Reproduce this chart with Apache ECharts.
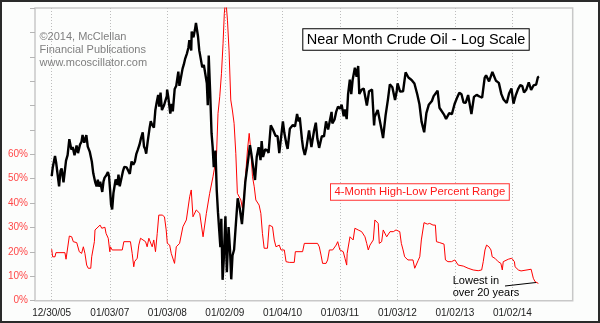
<!DOCTYPE html>
<html>
<head>
<meta charset="utf-8">
<script src="https://cdn.jsdelivr.net/npm/echarts@6/dist/echarts.min.js"></script>
<style>
html,body{margin:0;padding:0;background:#fcfdfc;}
#chart{width:600px;height:323px;}
</style>
</head>
<body>
<div id="chart"></div>
<script>
// ---- Data ----
const xTickDates = ['2005-12-30','2007-01-03','2008-01-03','2009-01-02','2010-01-04','2011-01-03','2012-01-03','2013-01-02','2014-01-02'];
const pctTickLabels = ['0%','10%','20%','30%','40%','50%','60%'];

const oilDates = [
'2005-12-30','2006-01-06','2006-01-12','2006-01-20','2006-01-27','2006-02-03','2006-02-15','2006-02-24','2006-03-03','2006-03-15','2006-03-31','2006-04-10','2006-04-21','2006-05-04','2006-05-12','2006-05-24','2006-06-06','2006-06-15','2006-06-28','2006-07-07','2006-07-14','2006-07-25','2006-08-07','2006-08-16','2006-08-29','2006-09-11','2006-09-20','2006-10-02','2006-10-11','2006-10-19','2006-10-25','2006-11-03','2006-11-16','2006-11-24','2006-12-01','2006-12-11','2006-12-22','2006-12-29',
'2007-01-05','2007-01-11','2007-01-18','2007-01-26','2007-02-01','2007-02-09','2007-02-20','2007-02-27','2007-03-07','2007-03-16','2007-03-28','2007-04-05','2007-04-16','2007-04-20','2007-05-01','2007-05-10','2007-05-21','2007-06-01','2007-06-11','2007-06-20','2007-06-29','2007-07-10','2007-07-20','2007-07-31','2007-08-08','2007-08-16','2007-08-22','2007-08-31','2007-09-12','2007-09-20','2007-09-28','2007-10-10','2007-10-19','2007-10-26','2007-11-06','2007-11-13','2007-11-21','2007-11-30','2007-12-07','2007-12-14','2007-12-21','2007-12-31',
'2008-01-02','2008-01-09','2008-01-16','2008-01-22','2008-01-31','2008-02-07','2008-02-19','2008-02-29','2008-03-13','2008-03-20','2008-04-01','2008-04-09','2008-04-17','2008-04-25','2008-05-06','2008-05-16','2008-05-22','2008-06-03','2008-06-06','2008-06-17','2008-06-27','2008-07-03','2008-07-11','2008-07-16','2008-07-24','2008-08-01','2008-08-12','2008-08-22','2008-08-29','2008-09-10','2008-09-16','2008-09-22','2008-10-01','2008-10-10','2008-10-17','2008-10-24','2008-11-04','2008-11-12','2008-11-20','2008-12-01','2008-12-05','2008-12-11','2008-12-19','2008-12-26',
'2009-01-06','2009-01-15','2009-01-26','2009-02-04','2009-02-12','2009-02-20','2009-03-02','2009-03-13','2009-03-25','2009-04-06','2009-04-21','2009-04-30','2009-05-12','2009-05-29','2009-06-11','2009-06-19','2009-06-30','2009-07-13','2009-07-24','2009-08-05','2009-08-17','2009-08-24','2009-09-02','2009-09-15','2009-09-30','2009-10-07','2009-10-21','2009-11-03','2009-11-20','2009-12-03','2009-12-14','2009-12-31',
'2010-01-06','2010-01-15','2010-01-29','2010-02-05','2010-02-19','2010-03-10','2010-03-24','2010-04-06','2010-04-16','2010-04-23','2010-05-07','2010-05-14','2010-05-25','2010-06-04','2010-06-21','2010-07-06','2010-07-23','2010-08-03','2010-08-13','2010-08-24','2010-09-10','2010-09-24','2010-10-07','2010-10-20','2010-11-11','2010-11-16','2010-11-30','2010-12-10','2010-12-22',
'2011-01-04','2011-01-14','2011-01-27','2011-02-04','2011-02-15','2011-02-24','2011-03-07','2011-03-16','2011-03-25','2011-04-08','2011-04-19','2011-04-29','2011-05-06','2011-05-20','2011-06-03','2011-06-13','2011-06-23','2011-07-07','2011-07-26','2011-08-08','2011-08-12','2011-08-31','2011-09-12','2011-09-23','2011-10-04','2011-10-20','2011-11-04','2011-11-16','2011-12-02','2011-12-19','2011-12-30',
'2012-01-04','2012-01-20','2012-02-08','2012-02-24','2012-03-13','2012-04-02','2012-04-20','2012-05-08','2012-05-22','2012-06-04','2012-06-21','2012-06-28','2012-07-05','2012-07-20','2012-08-09','2012-08-20','2012-09-14','2012-09-26','2012-10-05','2012-10-26','2012-11-07','2012-11-27','2012-12-14','2012-12-31',
'2013-01-18','2013-01-30','2013-02-13','2013-02-26','2013-03-12','2013-03-27','2013-04-17','2013-05-03','2013-05-20','2013-06-07','2013-06-24','2013-07-10','2013-07-19','2013-08-07','2013-08-28','2013-09-06','2013-09-20','2013-10-08','2013-10-24','2013-11-07','2013-11-27','2013-12-12','2013-12-27',
'2014-01-09','2014-01-24','2014-02-07','2014-02-21','2014-03-06','2014-03-17','2014-04-01','2014-04-16','2014-05-01','2014-05-16','2014-06-02','2014-06-13','2014-06-20'
];
const oilPrices = [
61.0,64.2,63.9,68.4,66.0,65.4,57.6,62.9,63.7,58.9,66.6,68.7,75.2,70.9,72.0,68.7,72.6,69.5,73.0,74.1,77.0,73.7,77.0,72.1,70.0,66.2,62.0,59.0,57.6,59.8,57.5,59.1,55.8,59.2,60.5,61.2,62.4,61.0,
56.3,51.9,50.5,55.4,57.3,59.9,58.1,61.5,57.6,57.1,62.9,64.3,63.6,64.1,63.7,61.8,66.3,65.1,66.2,69.1,70.7,72.8,75.6,78.2,72.2,71.0,69.3,74.0,79.9,83.3,81.7,80.3,88.6,91.9,96.7,90.4,98.0,88.7,88.3,91.3,93.3,96.0,
99.6,95.7,90.8,87.0,91.8,88.1,100.0,101.8,110.3,101.8,100.9,112.2,114.9,118.5,122.0,126.3,131.8,124.3,138.5,134.0,140.2,145.3,145.1,134.6,124.4,125.1,113.0,114.6,115.5,103.3,91.2,120.9,98.5,77.7,71.9,64.2,70.5,56.2,49.6,49.3,40.8,47.9,33.9,37.7,
48.6,35.4,45.7,40.3,34.0,38.9,40.2,46.3,53.8,51.1,46.5,51.1,58.9,66.3,72.7,69.5,69.9,59.7,68.1,71.9,66.8,74.4,68.0,71.0,70.6,69.6,81.4,79.6,76.7,76.5,69.5,79.4,
83.2,78.0,72.9,71.2,79.8,81.5,80.9,86.8,83.2,85.1,75.1,71.6,68.8,71.5,79.0,71.9,79.0,82.6,75.4,71.6,76.5,76.5,83.2,79.5,87.8,82.3,84.1,87.8,90.5,
89.4,91.5,85.6,89.0,84.3,97.3,105.4,97.1,105.4,112.8,107.1,113.9,97.2,99.5,100.2,99.1,91.0,98.7,99.6,81.3,85.4,88.8,88.2,79.9,75.7,86.1,94.3,102.6,101.0,93.9,99.0,
103.2,98.5,98.7,109.8,106.7,105.2,103.1,97.0,91.7,83.2,78.2,77.7,87.2,91.4,93.4,96.0,99.0,89.9,89.9,86.3,84.4,87.2,86.7,91.8,
95.6,97.9,97.0,92.6,92.5,96.6,86.7,95.6,96.7,95.8,95.2,106.5,108.0,104.4,110.1,110.5,104.7,103.5,97.1,94.2,92.3,97.5,100.3,
92.0,96.6,99.9,102.2,101.6,98.0,99.7,103.8,99.4,102.0,102.5,106.9,107.3
];

const rangeDates = [
'2005-12-30','2006-01-05','2006-01-20','2006-01-26','2006-03-24','2006-03-31','2006-04-08','2006-04-21','2006-05-06','2006-05-16','2006-06-07','2006-06-23','2006-07-08','2006-07-19','2006-07-29','2006-08-09','2006-08-19','2006-09-04','2006-09-10','2006-09-27','2006-10-01','2006-11-02','2006-11-08','2006-11-13','2006-12-03','2006-12-10','2006-12-24',
'2007-01-03','2007-01-07','2007-01-18','2007-03-23','2007-04-02','2007-05-14','2007-05-25','2007-06-04','2007-06-09','2007-06-26','2007-07-06','2007-07-17','2007-07-28','2007-08-18','2007-08-28','2007-09-08','2007-09-18','2007-09-29','2007-10-09','2007-10-20','2007-10-31','2007-11-10','2007-12-02','2007-12-16','2007-12-27',
'2008-01-03','2008-01-18','2008-01-28','2008-02-18','2008-02-29','2008-03-21','2008-04-11','2008-05-03','2008-05-24','2008-06-03','2008-06-14','2008-07-05','2008-07-27','2008-08-17','2008-09-07','2008-09-28','2008-10-19','2008-11-10','2008-11-20','2008-12-01','2008-12-12','2008-12-22','2008-12-30',
'2009-01-08','2009-01-19','2009-01-29','2009-02-09','2009-02-19','2009-03-02','2009-03-13','2009-03-23','2009-04-03','2009-04-14','2009-04-24','2009-05-05','2009-05-15','2009-05-26','2009-06-06','2009-06-16','2009-06-27','2009-07-08','2009-07-18','2009-08-08','2009-08-19','2009-08-29','2009-09-09','2009-09-30','2009-10-11','2009-11-01','2009-11-12','2009-11-23','2009-12-14','2009-12-25',
'2010-01-15','2010-01-26','2010-02-16','2010-03-19','2010-03-26','2010-05-11','2010-05-22','2010-08-14','2010-08-25','2010-09-05','2010-09-15','2010-10-07','2010-10-17','2010-10-28','2010-11-18','2010-12-10','2010-12-20',
'2011-01-03','2011-01-14','2011-01-24','2011-02-04','2011-02-15','2011-02-18','2011-03-08','2011-03-28','2011-04-08','2011-04-29','2011-05-21','2011-06-11','2011-06-22','2011-07-02','2011-07-13','2011-07-23','2011-08-03','2011-08-13','2011-08-24','2011-09-03','2011-09-10','2011-09-25','2011-10-05','2011-10-27','2011-11-17','2011-12-08','2011-12-25',
'2012-01-18','2012-01-28','2012-02-08','2012-02-18','2012-03-10','2012-04-11','2012-04-22','2012-05-03','2012-05-13','2012-05-24','2012-06-03','2012-06-20','2012-07-11','2012-07-26','2012-08-16','2012-08-31','2012-09-07','2012-09-28','2012-10-25','2012-11-03','2012-11-19','2012-12-11',
'2013-01-02','2013-01-13','2013-01-23','2013-02-24','2013-03-27','2013-04-28','2013-05-30','2013-06-21','2013-07-01','2013-07-12','2013-07-22','2013-08-06','2013-08-19','2013-08-27','2013-09-13','2013-10-04','2013-10-21','2013-10-30','2013-11-05','2013-11-16','2013-12-07','2013-12-29',
'2014-01-15','2014-01-19','2014-02-09','2014-02-26','2014-03-07','2014-05-01','2014-05-15','2014-05-26','2014-06-06','2014-06-16'
];
const rangePcts = [
21.1,18.0,18.0,19.7,19.7,17.0,17.0,26.5,26.2,24.2,23.8,20.1,19.4,22.1,19.4,14.6,13.3,13.3,18.0,24.2,29.0,31.0,31.4,29.7,30.1,27.6,25.6,
20.1,22.1,20.8,20.8,24.2,24.2,19.4,13.9,16.0,17.4,22.8,25.6,24.9,24.2,22.1,25.6,26.2,22.1,24.9,20.1,27.6,35.1,35.1,34.4,29.0,
23.5,22.8,19.4,15.3,22.1,23.5,30.3,33.1,42.6,45.4,34.4,37.2,35.8,26.2,35.8,44.0,50.8,59.0,76.8,83.6,93.2,105.5,117.8,
124.0,115.0,102.7,82.3,78.2,72.7,60.4,44.0,43.3,41.3,37.9,44.0,52.2,61.8,68.6,61.8,50.8,46.7,41.3,39.2,35.8,27.6,21.5,21.5,31.0,30.3,24.9,22.1,22.8,20.8,
20.8,16.0,15.7,15.7,20.1,20.1,23.5,23.5,22.1,18.7,15.3,15.3,16.7,20.8,20.8,22.8,24.2,
20.8,21.5,20.1,17.4,14.6,19.4,26.2,24.9,29.7,29.0,28.3,26.2,23.5,20.8,22.8,22.8,24.9,33.1,33.8,31.7,23.5,24.2,29.0,26.2,28.3,28.3,29.0,
28.3,23.5,20.8,18.0,16.7,16.7,13.3,13.3,16.4,18.0,24.9,32.0,31.4,31.7,31.0,31.0,24.2,23.8,23.2,16.7,16.0,16.0,
16.7,16.0,14.6,14.2,13.3,12.6,12.3,12.6,16.0,20.8,22.8,22.1,20.8,18.0,17.4,16.0,15.3,12.6,16.0,16.7,17.0,17.4,
16.0,13.9,12.6,12.2,12.9,12.9,9.2,7.8,8.5,7.1
];

// ---- helpers ----
function ts(s){ const p = s.split('-'); return Date.UTC(+p[0], +p[1]-1, +p[2]); }
function pad(n){ return (n < 10 ? '0' : '') + n; }
function fmtDate(v){ const d = new Date(v); return pad(d.getUTCMonth()+1) + '/' + pad(d.getUTCDate()) + '/' + pad(d.getUTCFullYear() % 100); }

const FONT = '"Liberation Sans", Arial, sans-serif';
const oilData = oilDates.map((d, i) => [ts(d), oilPrices[i]]);
const rangeData = rangeDates.map((d, i) => [ts(d), rangePcts[i]]);
const xTicks = xTickDates.map(ts);

const chart = echarts.init(document.getElementById('chart'), null, {renderer: 'canvas'});
chart.setOption({
  animation: false,
  backgroundColor: '#fcfdfc',
  grid: {left: 35, right: 27.3, top: 8, bottom: 22.3, show: true, borderColor: '#c8c8c8', borderWidth: 1.5, backgroundColor: 'transparent'},
  xAxis: {
    type: 'value',
    min: ts('2005-09-15'),
    max: ts('2015-01-20'),
    axisLine: {show: false},
    axisTick: {show: false, customValues: xTicks},
    axisLabel: {customValues: xTicks, formatter: v => fmtDate(v), color: '#222', fontSize: 10, fontFamily: FONT, margin: 8, hideOverlap: false},
    splitLine: {show: true, lineStyle: {color: '#bdbdbd', type: [1, 2], width: 1}}
  },
  yAxis: [
    {
      type: 'value', min: 0, max: 120, interval: 10,
      axisLine: {show: false},
      axisTick: {show: true, length: 5, lineStyle: {color: '#b5b5b5'}},
      axisLabel: {formatter: v => (v / 10 < pctTickLabels.length ? pctTickLabels[Math.round(v / 10)] : ''), color: '#ff4848', fontSize: 10, fontFamily: FONT, margin: 7},
      splitLine: {show: false}
    },
    {
      type: 'log', min: 30.12, max: 158.2, show: false,
      splitLine: {show: false}
    }
  ],
  series: [
    {
      name: '4-Month High-Low Percent Range', type: 'line', yAxisIndex: 0, data: rangeData,
      showSymbol: false, symbol: 'none', clip: true,
      lineStyle: {color: '#ff0000', width: 1}
    },
    {
      name: 'Near Month Crude Oil', type: 'line', yAxisIndex: 1, data: oilData,
      showSymbol: false, symbol: 'none', clip: true,
      lineStyle: {color: '#000000', width: 2.4}
    }
  ],
  graphic: [
    {type: 'text', left: 39.5, top: 30, z: 50, style: {text: '©2014, McClellan\nFinancial Publications\nwww.mcoscillator.com', font: '11px ' + FONT, fill: '#7f7f7f', lineHeight: 13.3}},
    {type: 'text', x: 303.3, y: 29.3, z: 50, style: {text: 'Near Month Crude Oil - Log Scale', font: '14.5px ' + FONT, fill: '#000', backgroundColor: '#ffffff', borderColor: '#000', borderWidth: 1, padding: [2, 3.5, 1.5, 3.5], lineHeight: 17}},
    {type: 'text', x: 331, y: 184.3, z: 50, style: {text: '4-Month High-Low Percent Range', font: '11.3px ' + FONT, fill: '#ff1a1a', backgroundColor: '#ffffff', borderColor: '#ff3030', borderWidth: 1, padding: [1.5, 3.5, 1, 3.5], lineHeight: 13}},
    {type: 'text', x: 452.7, y: 274.5, z: 50, style: {text: 'Lowest in\nover 20 years', font: '11px ' + FONT, fill: '#000', lineHeight: 12.5}},
    {type: 'line', z: 50, shape: {x1: 505, y1: 286, x2: 536, y2: 282.5}, style: {stroke: '#000', lineWidth: 1}},
    {type: 'rect', z: 100, shape: {x: 1, y: 1, width: 598, height: 321}, style: {fill: 'none', stroke: '#2a2a2a', lineWidth: 2}}
  ]
});
</script>
</body>
</html>
